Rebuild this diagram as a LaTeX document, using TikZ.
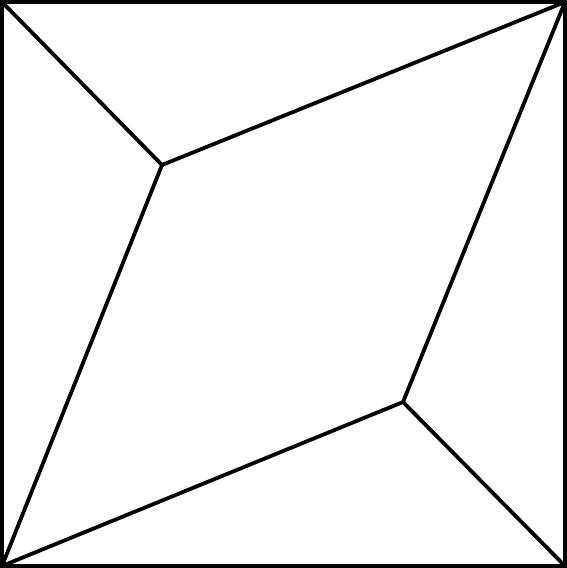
\documentclass[tikz,border=0pt]{standalone}
\begin{document}
\begin{tikzpicture}[x=1pt,y=-1pt,edge/.style={line width=3.8pt,line join=miter}]
\useasboundingbox (0,0) rectangle (567,568);
\coordinate (tl) at (2,2);
\coordinate (tr) at (565,2);
\coordinate (br) at (565,566);
\coordinate (bl) at (2,566);
\coordinate (p) at (162,165);
\coordinate (q) at (403,402);
\draw[edge] (tl) rectangle (br);
\draw[edge] (tl) -- (p) -- (tr);
\draw[edge] (p) -- (bl) -- (q) -- (tr);
\draw[edge] (q) -- (br);
\end{tikzpicture}
\end{document}
